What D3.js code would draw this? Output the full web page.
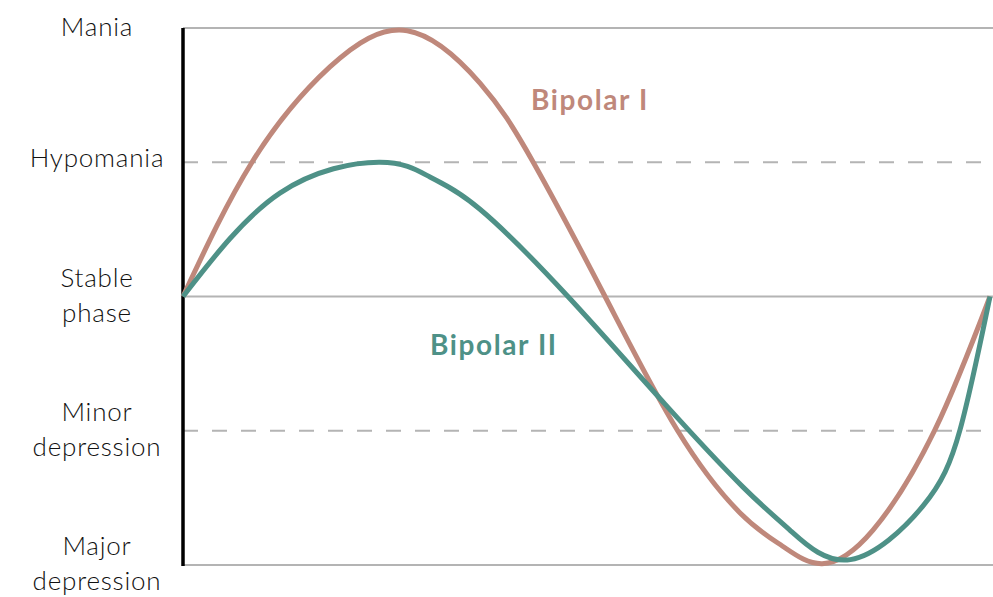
<!DOCTYPE html>
<html lang="en">
<head>
<meta charset="UTF-8">
<title>Bipolar I vs Bipolar II</title>
<script src="https://d3js.org/d3.v7.min.js"></script>
<style>
    body { margin: 0; background: #fff; }
    text { font-family: "Lato", "Noto Sans", sans-serif; }
</style>
</head>
<body>
<div id="chart"></div>

<script>
    // mood levels, bottom to top (value -2 .. 2)
    const levelValues = [-2, -1, 0, 1, 2];
    const levelLabels = [["Major", "depression"], ["Minor", "depression"], ["Stable", "phase"], ["Hypomania"], ["Mania"]];
    const levelDashed = [false, true, false, true, false];

    // time along the cycle (0..100) and mood value
    const bp1Time = [0, 8.55, 18.2, 27.8, 36.8, 43.4, 52.3, 61.3, 69, 74.3, 79.2, 85.5, 93.2, 100];
    const bp1Mood = [0, 1.0, 1.71, 1.98, 1.59, 1.0, 0, -1.0, -1.61, -1.86, -1.99, -1.74, -0.99, 0];

    const bp2Time = [0, 12, 24.4, 30.6, 36.8, 47.7, 59.7, 69.4, 75.2, 82.7, 91.7, 96.3, 100];
    const bp2Mood = [0, 0.77, 1.0, 0.89, 0.65, 0, -0.80, -1.42, -1.74, -1.96, -1.56, -0.99, 0];

    const seriesNames = ["Bipolar I", "Bipolar II"];
    const seriesColors = ["#bf887b", "#4e9187"];

    const W = 993, H = 597;
    const margin = {left: 183, right: 3, top: 28, bottom: 32};

    const svg = d3.select("#chart").append("svg")
        .attr("width", W)
        .attr("height", H);

    const x = d3.scaleLinear().domain([0, 100]).range([margin.left, W - margin.right]);
    const y = d3.scaleLinear().domain([-2, 2]).range([H - margin.bottom, margin.top]);

    // horizontal level lines
    svg.append("g")
        .selectAll("line")
        .data(levelValues)
        .join("line")
            .attr("x1", margin.left)
            .attr("x2", W)
            .attr("y1", d => y(d))
            .attr("y2", d => y(d))
            .attr("stroke", "#b4b4b4")
            .attr("stroke-width", 2.2)
            .attr("stroke-dasharray", (d, i) => levelDashed[i] ? "15,14" : null);

    // level labels
    const lab = svg.append("g")
        .selectAll("text")
        .data(levelValues)
        .join("text")
            .attr("text-anchor", "middle")
            .attr("font-size", 26)
            .attr("font-weight", 300)
            .attr("letter-spacing", 0.8)
            .attr("fill", "#111");

    lab.each(function(d, i) {
        const lines = levelLabels[i];
        const t = d3.select(this);
        if (lines.length === 1) {
            t.append("tspan").attr("x", 97).attr("y", y(d) + (d === 2 ? 8 : 5)).text(lines[0]);
        } else {
            t.append("tspan").attr("x", 97).attr("y", y(d) - 10).text(lines[0]);
            t.append("tspan").attr("x", 97).attr("y", y(d) + 25).text(lines[1]);
        }
    });

    // vertical axis line
    svg.append("line")
        .attr("x1", margin.left).attr("x2", margin.left)
        .attr("y1", y(2)).attr("y2", y(-2) + 1)
        .attr("stroke", "#000")
        .attr("stroke-width", 3.5);

    const line = d3.line()
        .x(d => x(d[0]))
        .y(d => y(d[1]))
        .curve(d3.curveNatural);

    const bp1 = d3.zip(bp1Time, bp1Mood);
    const bp2 = d3.zip(bp2Time, bp2Mood);

    svg.append("path")
        .datum(bp1)
        .attr("d", line)
        .attr("fill", "none")
        .attr("stroke", seriesColors[0])
        .attr("stroke-width", 5);

    svg.append("path")
        .datum(bp2)
        .attr("d", line)
        .attr("fill", "none")
        .attr("stroke", seriesColors[1])
        .attr("stroke-width", 5);

    // series labels
    svg.append("text")
        .attr("x", 531).attr("y", 110)
        .attr("font-size", 28).attr("font-weight", 700)
        .attr("letter-spacing", 1.6)
        .attr("fill", seriesColors[0])
        .text(seriesNames[0]);

    svg.append("text")
        .attr("x", 430).attr("y", 355)
        .attr("font-size", 28).attr("font-weight", 700)
        .attr("letter-spacing", 1.6)
        .attr("fill", seriesColors[1])
        .text(seriesNames[1]);
</script>
</body>
</html>
